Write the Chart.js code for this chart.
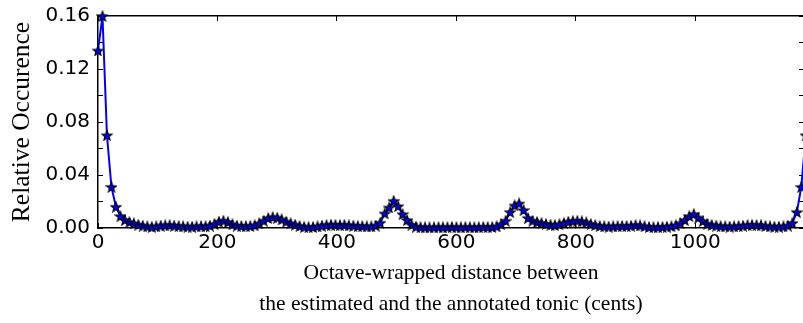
<!DOCTYPE html>
<html>
<head>
<meta charset="utf-8">
<script src="https://cdn.jsdelivr.net/npm/chart.js@4/dist/chart.umd.min.js"></script>
<style>
html, body { margin: 0; padding: 0; overflow: hidden; background: #fff; width: 803px; height: 323px; }
#wrap { width: 811px; height: 323px; }
canvas { display: block; }
</style>
</head>
<body>
<div id="wrap"><canvas id="c" width="811" height="323"></canvas></div>
<script>
// Distance (cents), sampled every 7.5 cents
const cents = [];
for (let i = 0; i < 160; i++) cents.push(i * 7.5);

const relativeOccurence = [
  0.134, 0.160, 0.070, 0.031, 0.016, 0.009, 0.006, 0.0045, 0.0035, 0.0025,
  0.0018, 0.0012, 0.0009, 0.0012, 0.0018, 0.0020, 0.0022, 0.0018, 0.0015, 0.0012,
  0.0010, 0.0010, 0.0012, 0.0014, 0.0013, 0.0018, 0.0030, 0.0048, 0.0055, 0.0045,
  0.0028, 0.0018, 0.0015, 0.0014, 0.0016, 0.0020, 0.0035, 0.0055, 0.0075, 0.0082,
  0.0078, 0.0065, 0.0048, 0.0035, 0.0025, 0.0015, 0.0009, 0.0007, 0.0008, 0.0012,
  0.0018, 0.0022, 0.0025, 0.0024, 0.0022, 0.0024, 0.0020, 0.0018, 0.0015, 0.0014,
  0.0012, 0.0012, 0.0018, 0.0040, 0.0110, 0.0155, 0.0205, 0.0165, 0.0105, 0.0060,
  0.0025, 0.0010, 0.0006, 0.0005, 0.0004, 0.0005, 0.0006, 0.0005, 0.0006, 0.0008,
  0.0006, 0.0005, 0.0007, 0.0006, 0.0005, 0.0006, 0.0008, 0.0007, 0.0008, 0.0012,
  0.0028, 0.0055, 0.0120, 0.0170, 0.0185, 0.0135, 0.0075, 0.0055, 0.0045, 0.0038,
  0.0030, 0.0025, 0.0022, 0.0028, 0.0038, 0.0048, 0.0052, 0.0055, 0.0050, 0.0042,
  0.0030, 0.0022, 0.0016, 0.0012, 0.0011, 0.0012, 0.0014, 0.0016, 0.0015, 0.0017,
  0.0022, 0.0019, 0.0013, 0.0008, 0.0006, 0.0007, 0.0008, 0.0010, 0.0013, 0.0020,
  0.0035, 0.0060, 0.0090, 0.0105, 0.0078, 0.0052, 0.0032, 0.0024, 0.0018, 0.0014,
  0.0012, 0.0011, 0.0012, 0.0015, 0.0018, 0.0022, 0.0024, 0.0022, 0.0021, 0.0016,
  0.0012, 0.0010, 0.0010, 0.0012, 0.0018, 0.0038, 0.0120, 0.0310, 0.0700, 0.1300
];

const xTicks = [0, 200, 400, 600, 800, 1000];
const yTicks = [0, 0.02, 0.04, 0.06, 0.08, 0.10, 0.12, 0.14, 0.16];
const yLabelled = [0, 0.04, 0.08, 0.12, 0.16];
const xMin = 0, xMax = 1182;
const yMin = 0, yMax = 0.16;

const xTitle = ['Octave-wrapped distance between', 'the estimated and the annotated tonic (cents)'];
const yTitle = 'Relative Occurence';

// star marker
function makeStar(size) {
  const c = document.createElement('canvas');
  c.width = size; c.height = size;
  const g = c.getContext('2d');
  const cx = size / 2, cy = size / 2 + 0.6;
  const R = size / 2 - 0.7, r = R * 0.42;
  g.beginPath();
  for (let k = 0; k < 10; k++) {
    const rad = k % 2 === 0 ? R : r;
    const a = -Math.PI / 2 + k * Math.PI / 5;
    const px = cx + rad * Math.cos(a), py = cy + rad * Math.sin(a);
    if (k === 0) g.moveTo(px, py); else g.lineTo(px, py);
  }
  g.closePath();
  g.fillStyle = '#0000ff';
  g.fill();
  g.lineWidth = 1.1;
  g.strokeStyle = '#000';
  g.stroke();
  return c;
}
const star = makeStar(12);

const points = cents.map((x, i) => ({ x: x, y: relativeOccurence[i] }));

const tickFont = { family: 'DejaVu Sans', size: 20 };
const setTicks = vals => s => { s.ticks = vals.map(v => ({ value: v })); };
const isLabelled = v => yLabelled.some(t => Math.abs(t - v) < 1e-9);
const noPad = s => { s.paddingLeft = 0; s.paddingRight = 0; s.paddingTop = 0; s.paddingBottom = 0; };

new Chart(document.getElementById('c'), {
  type: 'scatter',
  data: {
    datasets: [{
      data: points,
      showLine: true,
      borderColor: '#0000ff',
      borderWidth: 2,
      backgroundColor: '#0000ff',
      pointStyle: star,
      pointRadius: 5,
      tension: 0,
      clip: false
    }]
  },
  options: {
    responsive: false,
    animation: false,
    events: [],
    layout: { padding: { top: 16, right: 1, left: 0, bottom: 0 } },
    plugins: { legend: { display: false }, tooltip: { enabled: false } },
    scales: {
      x: {
        type: 'linear', position: 'bottom', min: xMin, max: xMax,
        afterBuildTicks: setTicks(xTicks),
        grid: { drawOnChartArea: false, drawTicks: true, tickLength: -5, color: '#000', lineWidth: 1 },
        border: { display: true, color: '#000', width: 1.5 },
        ticks: { maxRotation: 0, autoSkip: false, padding: 8, color: '#000', font: tickFont,
                 callback: v => String(v) },
        title: { display: true, text: xTitle, color: '#000',
                 font: { family: 'Liberation Serif', size: 21.5, lineHeight: 1.4 },
                 padding: { top: 0, bottom: 4 } },
        afterFit: s => { s.height = 95; noPad(s); }
      },
      x2: {
        type: 'linear', position: 'top', min: xMin, max: xMax,
        afterBuildTicks: setTicks(xTicks),
        grid: { drawOnChartArea: false, drawTicks: true, tickLength: -5, color: '#000', lineWidth: 1 },
        border: { display: true, color: '#000', width: 1.5 },
        ticks: { autoSkip: false, callback: () => '' },
        afterFit: s => { s.height = 0; noPad(s); }
      },
      y: {
        type: 'linear', position: 'left', min: yMin, max: yMax,
        afterBuildTicks: setTicks(yTicks),
        grid: { drawOnChartArea: false, drawTicks: true, tickLength: -5, color: '#000', lineWidth: 1 },
        border: { display: true, color: '#000', width: 1.5 },
        ticks: { autoSkip: false, padding: 13, color: '#000', font: tickFont,
                 callback: v => isLabelled(v) ? v.toFixed(2) : '' },
        title: { display: true, text: yTitle, color: '#000',
                 font: { family: 'Liberation Serif', size: 25.5, lineHeight: 1.2 },
                 padding: { top: 7, bottom: 0 } },
        afterFit: s => { s.width = 98; noPad(s); }
      },
      y2: {
        type: 'linear', position: 'right', min: yMin, max: yMax,
        afterBuildTicks: setTicks(yTicks),
        grid: { drawOnChartArea: false, drawTicks: true, tickLength: -5, color: '#000', lineWidth: 1 },
        border: { display: true, color: '#000', width: 1.5 },
        ticks: { autoSkip: false, callback: () => '' },
        afterFit: s => { s.width = 0; noPad(s); }
      }
    }
  }
});
</script>
</body>
</html>
